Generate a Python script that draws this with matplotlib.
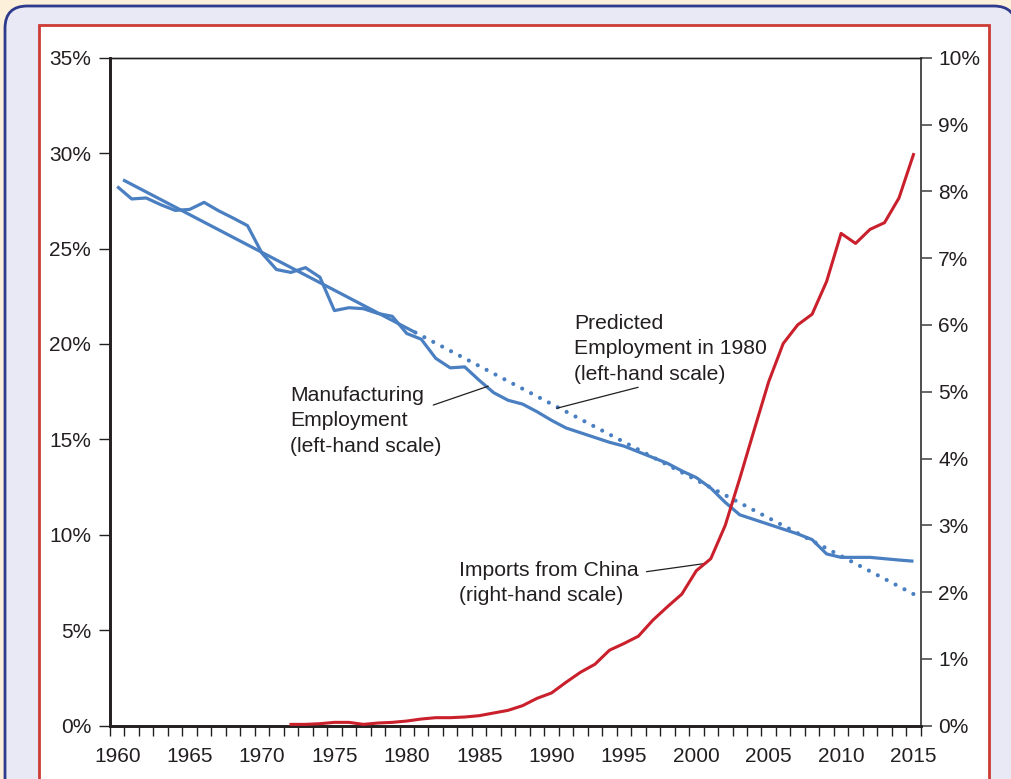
import matplotlib
matplotlib.use("Agg")
import matplotlib.pyplot as plt
from matplotlib.patches import FancyBboxPatch, Rectangle
from matplotlib.ticker import FixedLocator, NullFormatter

plt.rcParams['font.family'] = ['Liberation Sans', 'DejaVu Sans']

# ---------------- data ----------------
emp_years = list(range(1960, 2016))
manufacturing_emp = [28.25, 27.6, 27.65, 27.3, 27.0, 27.05, 27.42, 26.98, 26.6, 26.2,
                     24.75, 23.9, 23.75, 24.0, 23.5, 21.75, 21.9, 21.85, 21.6, 21.45,
                     20.55, 20.25, 19.25, 18.75, 18.8, 18.1, 17.45, 17.05, 16.85, 16.45,
                     16.0, 15.6, 15.35, 15.1, 14.85, 14.65, 14.35, 14.05, 13.75, 13.35,
                     13.0, 12.45, 11.7, 11.05, 10.8, 10.55, 10.3, 10.05, 9.75, 9.0,
                     8.82, 8.82, 8.82, 8.75, 8.68, 8.62]

trend_years = [1960.4, 1980.6]
trend_values = [28.6, 20.6]
predicted_years = [1980.6, 2015.5]
predicted_values = [20.6, 6.7]

imp_years = list(range(1972, 2016))
imports_china = [0.02, 0.02, 0.03, 0.05, 0.05, 0.02, 0.04, 0.05, 0.07, 0.10,
                 0.12, 0.12, 0.13, 0.15, 0.19, 0.23, 0.30, 0.41, 0.49, 0.65,
                 0.80, 0.92, 1.13, 1.23, 1.34, 1.58, 1.78, 1.97, 2.32, 2.50,
                 3.00, 3.70, 4.43, 5.15, 5.72, 6.00, 6.16, 6.65, 7.37, 7.22,
                 7.43, 7.53, 7.90, 8.55]

x_label_years = list(range(1960, 2016, 5))
left_ticks = list(range(0, 36, 5))
left_labels = [f"{v}%" for v in left_ticks]
right_ticks = list(range(0, 11))
right_labels = [f"{v}%" for v in right_ticks]

# ---------------- style ----------------
W, H = 1012, 779
BLUE = '#4a7fc1'
RED = '#c9202c'
TXT = '#231f20'
FS_TICK = 15.0
FS_ANN = 15.2

fig = plt.figure(figsize=(W / 100, H / 100), dpi=100)
fig.patch.set_facecolor('#fcf0db')

def fx(px):
    return px / W

def fy(py):
    return 1 - py / H

# rounded lavender panel
panel = FancyBboxPatch((fx(5), fy(800)), fx(1016) - fx(5), fy(6) - fy(800),
                       boxstyle="round,pad=0,rounding_size=0.022",
                       transform=fig.transFigure, facecolor='#e9e9f5',
                       edgecolor='#2e3a8c', linewidth=2.0, zorder=0,
                       mutation_aspect=W / H)
fig.add_artist(panel)
# white box with red border
box = Rectangle((fx(39.5), fy(800)), fx(989.5) - fx(39.5), fy(25.0) - fy(800),
                transform=fig.transFigure, facecolor='white',
                edgecolor='#cc3b35', linewidth=2.0, zorder=0.5)
fig.add_artist(box)

left, right = fx(110), fx(920.7)
bottom, top = fy(725.7), fy(57.7)
ax = fig.add_axes([left, bottom, right - left, top - bottom])
ax.set_facecolor('none')
ax.set_zorder(2)
ax2 = ax.twinx()
ax2.set_zorder(3)
ax2.set_facecolor('none')

# lines
ax.plot(emp_years, manufacturing_emp, color=BLUE, lw=2.3, solid_joinstyle='round',
        solid_capstyle='butt', zorder=3)
ax.plot(trend_years, trend_values, color=BLUE, lw=2.3, solid_capstyle='butt', zorder=3)
ax.plot(predicted_years, predicted_values, color=BLUE, lw=3.0,
        linestyle=(0, (0.01, 2.4)), dash_capstyle='round', zorder=3)
ax2.plot(imp_years, imports_china, color=RED, lw=2.2, solid_joinstyle='round', zorder=4)

ax.set_xlim(1959.5, 2015.5)
ax.set_ylim(0, 35)
ax2.set_ylim(0, 10)

# x ticks: minor at year boundaries, labels at mid-year without tick marks
ax.xaxis.set_major_locator(FixedLocator(x_label_years))
ax.set_xticklabels([str(y) for y in x_label_years])
ax.xaxis.set_minor_locator(FixedLocator([y - 0.5 for y in range(1960, 2017)]))
ax.xaxis.set_minor_formatter(NullFormatter())
ax.tick_params(axis='x', which='major', length=0, pad=15, labelsize=FS_TICK, labelcolor=TXT)
ax.tick_params(axis='x', which='minor', length=7.5, width=1.0, color=TXT, direction='out')

ax.set_yticks(left_ticks)
ax.set_yticklabels(left_labels)
ax.tick_params(axis='y', which='major', length=8, width=1.0, color=TXT, pad=5.5,
               labelsize=FS_TICK, labelcolor=TXT)

ax2.set_yticks(right_ticks)
ax2.set_yticklabels(right_labels)
ax2.tick_params(axis='y', which='major', length=8, width=1.2, color='#4d4d4d', pad=4.5,
                labelsize=FS_TICK, labelcolor=TXT)

for a in (ax, ax2):
    a.spines['left'].set_linewidth(1.9)
    a.spines['left'].set_color(TXT)
    a.spines['bottom'].set_linewidth(1.9)
    a.spines['bottom'].set_color(TXT)
    a.spines['top'].set_linewidth(1.0)
    a.spines['top'].set_color(TXT)
    a.spines['right'].set_linewidth(1.2)
    a.spines['right'].set_color('#4d4d4d')

# annotations (positions on left-hand scale)
LS = 1.43
ax.text(1971.93, 17.80, "Manufacturing\nEmployment\n(left-hand scale)", ha='left', va='top',
        fontsize=FS_ANN, color=TXT, linespacing=LS, zorder=5)
ax.annotate("", xy=(1985.63, 17.79), xytext=(1981.83, 16.80),
            arrowprops=dict(arrowstyle='-', color=TXT, lw=0.9, shrinkA=0, shrinkB=0))

ax.text(1991.54, 21.59, "Predicted\nEmployment in 1980\n(left-hand scale)", ha='left', va='top',
        fontsize=FS_ANN, color=TXT, linespacing=LS, zorder=5)
ax.annotate("", xy=(1990.35, 16.63), xytext=(1995.98, 17.73),
            arrowprops=dict(arrowstyle='-', color=TXT, lw=0.9, shrinkA=0, shrinkB=0))

ax.text(1983.6, 8.63, "Imports from China\n(right-hand scale)", ha='left', va='top',
        fontsize=FS_ANN, color=TXT, linespacing=LS, zorder=5)
ax.annotate("", xy=(2000.71, 8.51), xytext=(1996.56, 8.07),
            arrowprops=dict(arrowstyle='-', color=TXT, lw=0.9, shrinkA=0, shrinkB=0))

fig.savefig("out.png", dpi=100, facecolor=fig.get_facecolor())
